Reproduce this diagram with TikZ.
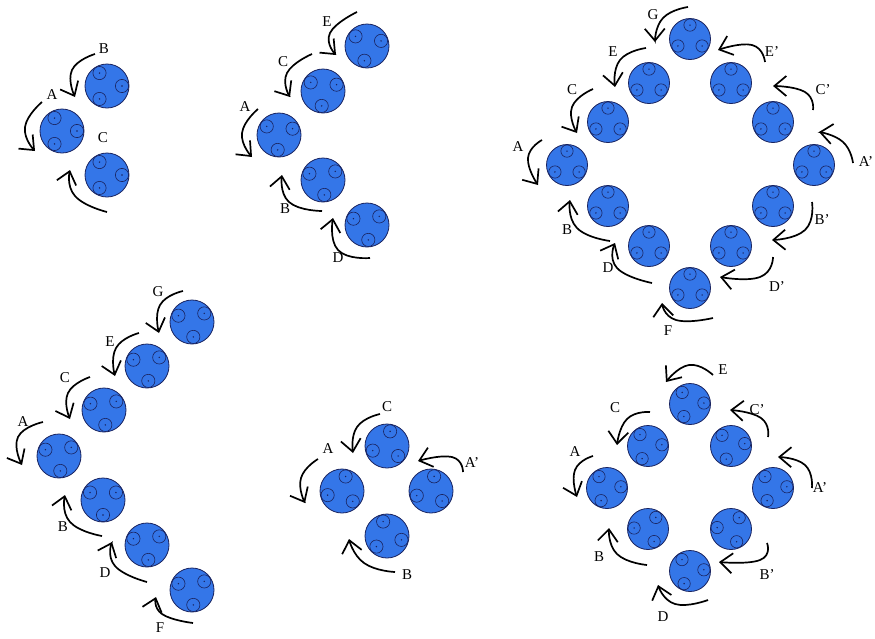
\documentclass[tikz,border=0pt]{standalone}
\usepackage{fontspec}
\setmainfont{Liberation Serif}
\usetikzlibrary{arrows.meta,calc}
\definecolor{discblue}{RGB}{52,118,232}
\definecolor{discedge}{RGB}{25,35,95}
\tikzset{
  arr/.style={line width=1.7pt, -{Straight Barb[length=12pt,width=20pt,line width=1.7pt]}},
  lab/.style={font=\fontsize{15}{15}\selectfont, inner sep=0pt},
  discbody/.style={fill=discblue, draw=discedge, line width=0.8pt},
  hole/.style={draw=discedge, line width=0.6pt},
}
\newcommand\disc[4]{%
  \path[discbody] (#1,#2) circle[radius=#4];
  \foreach \a in {0,120,240}{
    \draw[hole] ($(#1,#2)+(#3+\a:0.68*#4pt)$) circle[radius=0.3*#4];
    \fill[discedge] ($(#1,#2)+(#3+\a:0.68*#4pt)$) circle[radius=0.8];
  }}
\newcommand\rarrow[3]{\draw[arr] plot[smooth,tension=0.9] coordinates {#1 #2 #3};}
\begin{document}
\begin{tikzpicture}[x=1pt,y=-1pt]
\useasboundingbox (0,0) rectangle (875,638);
\fill[white] (0,0) rectangle (875,638);
% ---------- group 1
\disc{107}{86}{0}{22}
\disc{62}{131}{0}{22}
\disc{107}{175}{0}{22}
\rarrow{(95,54)}{(72,70)}{(75,97)}
\rarrow{(42,102)}{(25,127)}{(35,151)}
\rarrow{(107,212)}{(75,196)}{(70,170)}
\node[lab] (g1B) at (104,49) {B};
\node[lab] (g1A) at (52,95) {A};
\node[lab] (g1C) at (103,138) {C};
% ---------- group 2
\disc{367}{46}{20}{22}
\disc{323}{91}{25}{22}
\disc{279}{135}{25}{22}
\disc{323}{180}{35}{22}
\disc{367}{225}{35}{22}
\rarrow{(357,12)}{(330,33)}{(336,55)}
\rarrow{(312,54)}{(287,73)}{(290,97)}
\rarrow{(258,109)}{(242,133)}{(252,157)}
\rarrow{(322,211)}{(289,202)}{(282,175)}
\rarrow{(370,258)}{(338,250)}{(333,218)}
\node[lab] (g2E) at (327,22) {E};
\node[lab] (g2C) at (283,62) {C};
\node[lab] (g2A) at (245,107) {A};
\node[lab] (g2B) at (285,209) {B};
\node[lab] (g2D) at (338,258) {D};
% ---------- group 3
\disc{690}{39}{90}{20.5}
\disc{649}{83}{90}{20.5}
\disc{608}{122}{90}{20.5}
\disc{567}{165}{90}{20.5}
\disc{608}{206}{90}{20.5}
\disc{649}{246}{90}{20.5}
\disc{690}{288}{90}{20.5}
\disc{731}{246}{90}{20.5}
\disc{773}{206}{90}{20.5}
\disc{814}{165}{90}{20.5}
\disc{773}{122}{90}{20.5}
\disc{731}{83}{90}{20.5}
\rarrow{(688,7)}{(663,18)}{(655,42)}
\rarrow{(646,48)}{(620,60)}{(615,87)}
\rarrow{(593,89)}{(572,107)}{(577,133)}
\rarrow{(542,140)}{(528,158)}{(538,185)}
\rarrow{(610,241)}{(577,228)}{(570,200)}
\rarrow{(652,283)}{(617,268)}{(615,243)}
\rarrow{(713,318)}{(676,320)}{(662,303)}
\rarrow{(773,257)}{(760,277)}{(720,277)}
\rarrow{(812,202)}{(805,230)}{(772,240)}
\rarrow{(853,163)}{(843,142)}{(819,132)}
\rarrow{(813,110)}{(805,92)}{(773,86)}
\rarrow{(765,62)}{(752,45)}{(718,50)}
\node[lab] (g3G) at (653,15) {G};
\node[lab] (g3E) at (613,52) {E};
\node[lab] (g3C) at (572,90) {C};
\node[lab] (g3A) at (518,147) {A};
\node[lab] (g3B) at (567,230) {B};
\node[lab] (g3D) at (608,268) {D};
\node[lab] (g3F) at (668,331) {F};
\node[lab] (g3Dp) at (777,287) {D'};
\node[lab] (g3Bp) at (822,220) {B'};
\node[lab] (g3Ap) at (866,162) {A'};
\node[lab] (g3Cp) at (823,90) {C'};
\node[lab] (g3Ep) at (772,52) {E'};
% ---------- group 4
\disc{192}{322}{35}{22}
\disc{147}{366}{35}{22}
\disc{104}{410}{35}{22}
\disc{59}{456}{35}{22}
\disc{103}{500}{30}{22}
\disc{147}{545}{35}{22}
\disc{192}{590}{35}{22}
\rarrow{(183,291)}{(160,305)}{(159,333)}
\rarrow{(139,333)}{(116,348)}{(115,376)}
\rarrow{(90,377)}{(68,393)}{(70,419)}
\rarrow{(43,422)}{(18,437)}{(22,465)}
\rarrow{(102,536)}{(70,522)}{(65,495)}
\rarrow{(147,582)}{(115,566)}{(112,542)}
\rarrow{(193,623)}{(162,614)}{(156,597)}
\node[lab] (g4G) at (158,292) {G};
\node[lab] (g4E) at (110,342) {E};
\node[lab] (g4C) at (65,378) {C};
\node[lab] (g4A) at (23,422) {A};
\node[lab] (g4B) at (63,527) {B};
\node[lab] (g4D) at (105,573) {D};
\node[lab] (g4F) at (160,628) {F};
% ---------- group 5
\disc{387}{446}{78}{22}
\disc{342}{491}{76}{22}
\disc{431}{491}{78}{22}
\disc{387}{536}{105}{22}
\rarrow{(380,414)}{(357,427)}{(353,453)}
\rarrow{(318,459)}{(301,478)}{(305,503)}
\rarrow{(463,472)}{(452,457)}{(418,461)}
\rarrow{(395,572)}{(364,563)}{(349,539)}
\node[lab] (g5C) at (387,407) {C};
\node[lab] (g5A) at (328,449) {A};
\node[lab] (g5Ap) at (472,463) {A'};
\node[lab] (g5B) at (407,575) {B};
% ---------- group 6
\disc{690}{404}{4}{20.5}
\disc{648}{446}{5}{20.5}
\disc{731}{446}{10}{20.5}
\disc{607}{488}{5}{20.5}
\disc{773}{488}{5}{20.5}
\disc{648}{529}{56}{20.5}
\disc{731}{529}{54}{20.5}
\disc{690}{571}{5}{20.5}
\rarrow{(713,375)}{(689,365)}{(666,382)}
\rarrow{(650,412)}{(627,419)}{(617,445)}
\rarrow{(768,437)}{(761,418)}{(730,410)}
\rarrow{(593,456)}{(575,470)}{(577,497)}
\rarrow{(812,488)}{(805,465)}{(778,457)}
\rarrow{(647,565)}{(617,554)}{(609,528)}
\rarrow{(767,543)}{(760,560)}{(719,562)}
\rarrow{(708,600)}{(675,604)}{(658,585)}
\node[lab] (g6E) at (723,370) {E};
\node[lab] (g6C) at (615,408) {C};
\node[lab] (g6Cp) at (757,410) {C'};
\node[lab] (g6A) at (575,452) {A};
\node[lab] (g6Ap) at (820,488) {A'};
\node[lab] (g6B) at (599,557) {B};
\node[lab] (g6Bp) at (767,575) {B'};
\node[lab] (g6D) at (663,617) {D};
\end{tikzpicture}
\end{document}
